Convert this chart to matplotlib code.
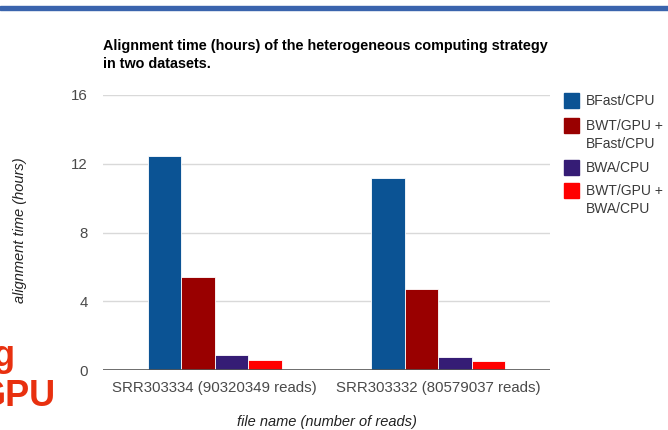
import matplotlib
matplotlib.use("Agg")
import matplotlib.pyplot as plt
from matplotlib.patches import Rectangle
import numpy as np

plt.rcParams["font.family"] = ["Liberation Sans", "DejaVu Sans"]

# alignment time in hours for each dataset
datasets = ["SRR303334 (90320349 reads)", "SRR303332 (80579037 reads)"]
series_names = ["BFast/CPU", "BWT/GPU +\nBFast/CPU", "BWA/CPU", "BWT/GPU +\nBWA/CPU"]
bfast_cpu = [12.44, 11.2]
bwt_gpu_bfast = [5.44, 4.74]
bwa_cpu = [0.88, 0.73]
bwt_gpu_bwa = [0.61, 0.54]
colors = ["#0b5394", "#990000", "#351c75", "#ff0000"]
yticks = [0, 4, 8, 12, 16]

W, H = 668, 430


def fx(px):
    return px / W


def fy(py):
    return 1 - py / H


def main():
    fig = plt.figure(figsize=(W / 100, H / 100), dpi=100)
    ax = fig.add_axes([fx(103), fy(370), fx(550) - fx(103), fy(95) - fy(370)])

    series = [bfast_cpu, bwt_gpu_bfast, bwa_cpu, bwt_gpu_bwa]
    x = np.arange(len(datasets))
    width = 0.15
    for i, (vals, col) in enumerate(zip(series, colors)):
        ax.bar(x + (i - 1.5) * width, vals, width, color=col,
               edgecolor="white", linewidth=0.6, zorder=3)

    ax.set_xlim(-0.5, 1.5)
    ax.set_ylim(0, 16)
    ax.set_yticks(yticks)
    ax.set_yticklabels([str(t) for t in yticks])
    ax.set_xticks(x)
    ax.set_xticklabels(datasets)
    ax.tick_params(length=0, labelsize=10.8, labelcolor="#4a4a4a")
    ax.tick_params(axis="y", pad=11)
    ax.tick_params(axis="x", pad=8)
    ax.grid(axis="y", color="#d9d9d9", linewidth=1, zorder=0)
    for side in ["top", "right", "left", "bottom"]:
        ax.spines[side].set_visible(False)
    ax.axhline(0, color="#555555", linewidth=1.2, zorder=4)

    fig.text(fx(103), fy(39),
             "Alignment time (hours) of the heterogeneous computing strategy\nin two datasets.",
             fontsize=10.4, fontweight="bold", color="#000000",
             va="top", linespacing=1.35)
    fig.text(fx(20), fy(230), "alignment time (hours)", rotation=90,
             fontsize=10.5, style="italic", color="#222222",
             ha="center", va="center")
    fig.text(fx(327), fy(422), "file name (number of reads)",
             fontsize=10.5, style="italic", color="#222222",
             ha="center", va="center")

    # legend: colour squares with labels beside them
    square_tops = [93, 118, 160, 183]
    for top, name, col in zip(square_tops, series_names, colors):
        fig.add_artist(Rectangle((fx(564), fy(top + 15)), fx(15), 15 / H,
                                 transform=fig.transFigure, color=col))
        fig.text(fx(586), fy(top + 1), name, fontsize=10, color="#3a3a3a",
                 va="top", linespacing=1.35)

    # slide header bar and leftover slide text
    fig.add_artist(Rectangle((0, fy(9.5)), 1, 3.5 / H,
                             transform=fig.transFigure, color="#3a64ad"))
    fig.text(fx(15), fy(366), "g", fontsize=26, fontweight="bold",
             color="#e8300f", ha="right", va="baseline")
    fig.text(fx(56), fy(406), "GPU", fontsize=26, fontweight="bold",
             color="#e8300f", ha="right", va="baseline")

    fig.savefig("out.png", dpi=100)


if __name__ == "__main__":
    main()
